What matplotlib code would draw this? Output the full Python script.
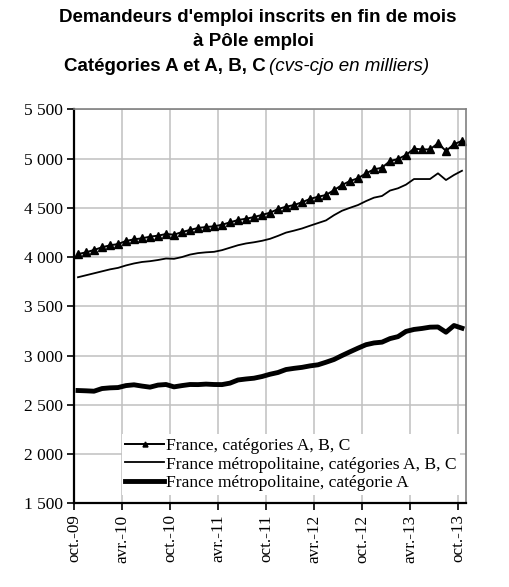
import matplotlib
matplotlib.use('Agg')
import matplotlib.pyplot as plt
import numpy as np

# mois d'oct-09 a oct-13
mois = ['oct.-09', 'avr.-10', 'oct.-10', 'avr.-11', 'oct.-11',
        'avr.-12', 'oct.-12', 'avr.-13', 'oct.-13']

france_abc = [4030, 4048, 4072, 4099, 4119, 4132, 4163, 4180, 4190, 4207,
              4217, 4234, 4227, 4254, 4275, 4295, 4305, 4312, 4328, 4352,
              4376, 4389, 4406, 4428, 4450, 4487, 4511, 4528, 4556, 4590,
              4612, 4630, 4680, 4731, 4772, 4800, 4850, 4890, 4907, 4975,
              4995, 5036, 5100, 5093, 5093, 5155, 5077, 5145, 5180]

metro_abc = [3795, 3815, 3835, 3855, 3875, 3890, 3915, 3935, 3950, 3958,
             3970, 3985, 3982, 4000, 4025, 4040, 4048, 4053, 4070, 4095,
             4120, 4138, 4150, 4165, 4185, 4215, 4248, 4268, 4290, 4318,
             4345, 4372, 4425, 4470, 4500, 4528, 4568, 4603, 4620, 4675,
             4698, 4735, 4792, 4792, 4792, 4850, 4782, 4833, 4876]

metro_a = [2645, 2642, 2638, 2665, 2672, 2675, 2695, 2703, 2690, 2679,
           2700, 2706, 2682, 2695, 2706, 2705, 2710, 2706, 2705, 2720,
           2752, 2762, 2770, 2787, 2810, 2828, 2858, 2870, 2880, 2895,
           2906, 2932, 2960, 3000, 3038, 3075, 3110, 3128, 3136, 3172,
           3192, 3245, 3265, 3275, 3288, 3290, 3237, 3305, 3278]

x = np.arange(len(france_abc)) + 0.5

fig = plt.figure(figsize=(5.1, 5.87), dpi=100)
ax = fig.add_axes([0.1451, 0.1426, 0.9137 - 0.1451, 0.8138 - 0.1426])

ax.plot(x, france_abc, color='black', lw=1.4, marker='^', ms=6,
        label='France, catégories A, B, C')
ax.plot(x, metro_abc, color='black', lw=1.3,
        label='France métropolitaine, catégories A, B, C')
ax.plot(x, metro_a, color='black', lw=3.5,
        label='France métropolitaine, catégorie A')

ax.set_xlim(0, len(france_abc))
ax.set_ylim(1500, 5500)
ax.set_xticks(np.arange(0, 49, 6))
ax.set_xticklabels(mois, rotation=90, family='Liberation Serif', fontsize=12.3)
yt = np.arange(1500, 5501, 500)
ax.set_yticks(yt)
ax.set_yticklabels([f'{v:,}'.replace(',', ' ') for v in yt],
                   family='Liberation Serif', fontsize=12.5)
ax.tick_params(direction='out', length=5, width=1.2, colors='black', pad=3)

ax.grid(True, color='#c0c0c0', lw=1.1)
ax.set_axisbelow(True)
for s in ['left', 'bottom']:
    ax.spines[s].set_linewidth(1.6)
    ax.spines[s].set_color('black')
for s in ['top', 'right']:
    ax.spines[s].set_linewidth(1.2)
    ax.spines[s].set_color('#808080')

leg = ax.legend(loc='lower left', bbox_to_anchor=(0.10, 0.0),
                prop={'family': 'Liberation Serif', 'size': 12.6},
                frameon=True, fancybox=False, handlelength=2.2,
                handletextpad=0.1, borderpad=0.2, labelspacing=0.13,
                markerscale=0.6)
leg.get_frame().set_edgecolor('none')
leg.get_frame().set_facecolor('white')
leg.get_frame().set_alpha(1)

fig.text(0.506, 0.971, "Demandeurs d'emploi inscrits en fin de mois",
         ha='center', va='center', fontsize=13.5, fontweight='bold',
         family='Liberation Sans')
fig.text(0.497, 0.929, "à Pôle emploi", ha='center', va='center',
         fontsize=13.5, fontweight='bold', family='Liberation Sans')
fig.text(0.125, 0.886, "Catégories A et A, B, C", ha='left', va='center',
         fontsize=13.5, fontweight='bold', family='Liberation Sans')
fig.text(0.527, 0.886, "(cvs-cjo en milliers)", ha='left', va='center',
         fontsize=13.5, style='italic', family='Liberation Sans')

fig.savefig('out.png', dpi=100)
